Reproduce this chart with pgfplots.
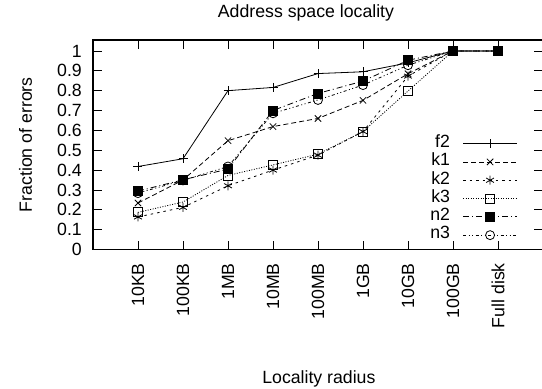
\documentclass[border=0pt]{standalone}
\usepackage{fontspec}
\setmainfont{Liberation Sans}
\usepackage{pgfplots}
\pgfplotsset{compat=1.18}
\begin{document}
\fontsize{17.7bp}{21bp}\selectfont
\begin{tikzpicture}
\begin{axis}[
  scale only axis,
  width=450bp, height=209.5bp,
  xmin=-1, xmax=9, ymin=0, ymax=1.055,
  axis line style={line width=1.1bp},
  xtick={0,1,2,3,4,5,6,7,8},
  xticklabels={10KB,100KB,1MB,10MB,100MB,1GB,10GB,100GB,Full disk},
  ytick={0,0.1,0.2,0.3,0.4,0.5,0.6,0.7,0.8,0.9,1},
  yticklabels={0,0.1,0.2,0.3,0.4,0.5,0.6,0.7,0.8,0.9,1},
  tick align=inside,
  major tick length=9bp,
  tick style={line width=0.8bp, black},
  xticklabel style={rotate=90, anchor=east, inner sep=0pt},
  xticklabel shift=13.5bp,
  yticklabel style={anchor=east, inner sep=0pt},
  yticklabel shift=11bp,
  xlabel={Locality radius},
  xlabel style={at={(axis description cs:0.502,-0.62)}, anchor=center, inner sep=0pt},
  ylabel={Fraction of errors},
  ylabel style={at={(axis description cs:-0.15,0.5)}, anchor=center, inner sep=0pt},
  every axis plot/.append style={line width=0.8bp, black, mark size=4.5bp},
  legend plot pos=right,
  legend cell align=right,
  legend image code/.code={\draw[mark repeat=2,mark phase=2] plot coordinates {(0bp,0bp)(27bp,0bp)(54bp,0bp)};},
  legend style={draw=none, fill=none, at={(axis description cs:0.9504,0.5594)}, anchor=north east,
    nodes={inner sep=0pt, text height=13bp, text depth=5.3bp},
    /tikz/every odd column/.append style={column sep=12.7bp}},
  after end axis/.code={\node[anchor=base, inner sep=0pt] at (axis description cs:0.4733,1.1065) {Address space locality};},
]
\addplot[solid, mark=+] coordinates {(0,0.418)(1,0.457)(2,0.80)(3,0.816)(4,0.886)(5,0.895)(6,0.94)(7,1)(8,1)};
\addlegendentry{f2}
\addplot[dash pattern=on 5bp off 3bp, mark=x, mark options={solid}] coordinates {(0,0.234)(1,0.35)(2,0.548)(3,0.619)(4,0.66)(5,0.751)(6,0.885)(7,1)(8,1)};
\addlegendentry{k1}
\addplot[dash pattern=on 2.5bp off 4bp, mark=asterisk, mark options={solid}] coordinates {(0,0.164)(1,0.212)(2,0.321)(3,0.40)(4,0.475)(5,0.594)(6,0.873)(7,1)(8,1)};
\addlegendentry{k2}
\addplot[dash pattern=on 1bp off 1.5bp, mark=square, mark options={solid}] coordinates {(0,0.187)(1,0.239)(2,0.373)(3,0.426)(4,0.48)(5,0.594)(6,0.798)(7,1)(8,1)};
\addlegendentry{k3}
\addplot[dash pattern=on 6bp off 3bp on 1bp off 3bp, mark=square*, mark options={solid}] coordinates {(0,0.294)(1,0.351)(2,0.405)(3,0.70)(4,0.786)(5,0.848)(6,0.953)(7,1)(8,1)};
\addlegendentry{n2}
\addplot[dash pattern=on 3bp off 2.5bp on 1bp off 2.5bp on 1bp off 2.5bp, mark=o, mark options={solid}] coordinates {(0,0.284)(1,0.348)(2,0.418)(3,0.686)(4,0.753)(5,0.828)(6,0.928)(7,1)(8,1)};
\addlegendentry{n3}
\end{axis}
\pgfresetboundingbox
\path[use as bounding box] (-93bp,-139.5bp) rectangle (449bp,249.5bp);
\end{tikzpicture}
\end{document}
